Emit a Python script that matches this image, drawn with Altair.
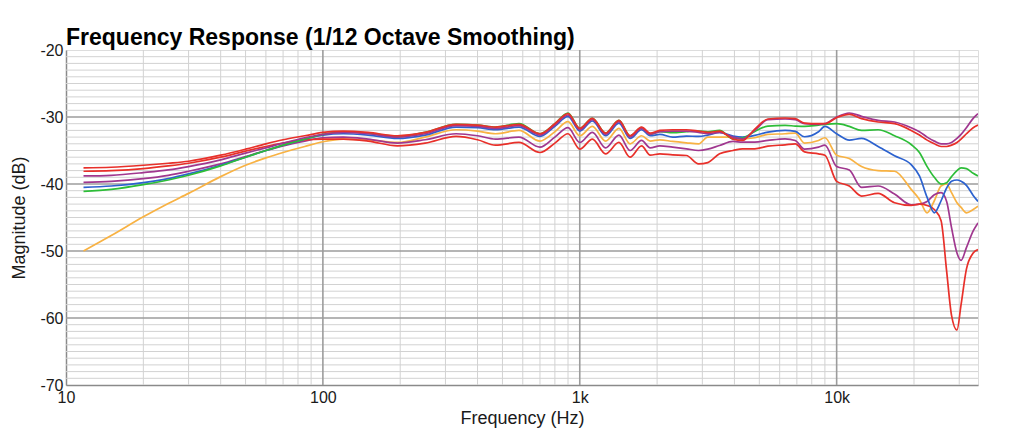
import altair as alt
import pandas as pd

FREQ = [11.7, 15, 20, 25, 30, 40, 50, 60, 70, 85,
        100, 120, 150, 195, 250, 330, 400, 470, 580, 700,
        800, 900, 1000, 1120, 1260, 1420, 1570, 1740, 1880, 2050,
        2300, 2600, 2900, 3150, 3500, 3950, 4300, 4800, 5400, 6300,
        6900, 7500, 8500, 9000, 10000, 11200, 12500, 14500, 16800, 19500,
        21000, 22500, 24000, 25500, 26800, 28000, 29400, 30500, 32000, 34000,
        35500]

RED_A = [-37.6, -37.5, -37.2, -36.9, -36.6, -35.7, -34.8, -34.0, -33.4, -32.8,
         -32.3, -32.1, -32.3, -32.8, -32.3, -31.1, -31.2, -31.5, -31.1, -32.5,
         -31.0, -29.5, -31.7, -30.2, -32.4, -30.5, -32.8, -31.5, -32.4, -32.0,
         -31.9, -31.9, -32.1, -32.3, -32.1, -33.3, -33.5, -31.8, -30.3, -30.15,
         -30.25, -30.9, -31.0, -31.0, -30.1, -29.6, -30.25, -30.75, -31.0, -32.0,
         -32.7, -33.45, -34.0, -34.4, -34.4, -34.2, -33.8, -33.3, -32.5, -31.6,
         -31.2]

PURPLE_A = [-38.8, -38.7, -38.3, -37.9, -37.4, -36.4, -35.4, -34.6, -33.9, -33.1,
            -32.6, -32.3, -32.5, -33.0, -32.5, -31.3, -31.4, -31.7, -31.3, -32.7,
            -31.2, -29.7, -31.9, -30.4, -32.6, -30.7, -33.0, -31.7, -32.6, -32.2,
            -32.1, -32.1, -32.3, -32.5, -32.3, -33.0, -33.3, -32.0, -30.4, -30.3,
            -30.4, -31.0, -31.1, -31.0, -30.0, -29.4, -29.9, -30.5, -30.75, -31.6,
            -32.2, -33.0, -33.6, -34.0, -34.0, -33.8, -33.2, -32.6, -31.6, -30.2,
            -29.5]

GREEN = [-41.1, -40.8, -40.1, -39.4, -38.7, -37.3, -36.0, -35.0, -34.2, -33.3,
         -32.6, -32.2, -32.4, -32.9, -32.3, -31.1, -31.2, -31.5, -31.0, -32.5,
         -31.0, -29.4, -31.7, -30.2, -32.4, -30.5, -32.8, -31.6, -32.6, -32.2,
         -32.35, -32.2, -32.1, -32.2, -32.0, -33.25, -33.15, -32.15, -31.35, -31.25,
         -31.35, -31.4, -31.2, -31.1, -31.0, -31.4, -32.0, -31.9, -32.8, -34.1,
         -35.3, -37.4, -39.0, -40.0, -39.8, -38.9, -38.0, -37.6, -37.7, -38.4,
         -38.8]

BLUE = [-40.5, -40.3, -39.8, -39.2, -38.5, -37.2, -36.0, -35.0, -34.2, -33.3,
        -32.7, -32.5, -32.7, -33.2, -32.7, -31.5, -31.6, -31.9, -31.5, -32.9,
        -31.4, -29.9, -32.1, -30.6, -32.8, -30.9, -33.2, -31.9, -32.8, -32.6,
        -33.0, -32.85, -32.9, -32.7, -32.3, -32.85, -33.0, -32.75, -32.25, -32.0,
        -32.15, -32.95, -32.2, -31.4, -32.5, -33.45, -33.2, -34.4, -35.8, -37.1,
        -38.8, -42.0, -44.3, -42.5, -40.6, -39.6, -39.4, -39.6, -40.2, -41.7,
        -42.6]

ORANGE = [-50.0, -47.7, -44.9, -42.9, -41.4, -38.9, -37.2, -36.1, -35.3, -34.4,
          -33.7, -33.3, -33.4, -33.8, -33.0, -31.9, -32.1, -32.5, -32.0, -33.6,
          -32.2, -30.7, -32.8, -31.4, -33.6, -31.7, -34.0, -32.8, -33.6, -33.4,
          -33.65, -33.85, -34.0, -33.0, -33.0, -33.0, -33.25, -33.1, -32.6, -32.5,
          -32.4, -33.9, -33.5, -33.1, -35.7, -36.2, -37.4, -38.0, -38.1, -40.8,
          -42.3, -44.3, -42.5, -40.3, -40.0, -41.3, -42.8, -43.5, -44.3, -43.8,
          -43.3]

PURPLE_B = [-39.75, -39.6, -39.2, -38.7, -38.1, -37.0, -35.9, -35.0, -34.3, -33.6,
            -33.1, -33.0, -33.3, -33.9, -33.4, -32.5, -32.8, -33.3, -33.0, -34.5,
            -33.0, -31.6, -33.8, -32.3, -34.6, -32.7, -35.0, -33.5, -34.6, -34.3,
            -34.5, -34.75, -35.0, -34.8, -34.25, -33.65, -33.75, -33.75, -33.5, -33.25,
            -33.5, -34.8, -34.5, -34.2, -37.4, -37.9, -40.5, -40.3, -41.5, -43.1,
            -43.0, -42.6, -41.6, -41.3, -42.6, -46.5, -50.3, -51.4, -49.5, -47.0,
            -45.8]

RED_B = [-38.1, -38.0, -37.7, -37.3, -36.9, -36.0, -35.1, -34.4, -33.9, -33.4,
         -33.3, -33.3, -33.6, -34.3, -33.9, -32.9, -33.4, -34.2, -33.8, -35.3,
         -33.9, -32.5, -34.8, -33.3, -35.5, -33.8, -36.0, -34.3, -35.7, -35.5,
         -35.65, -35.75, -37.0, -36.8, -35.5, -35.0, -34.75, -34.75, -34.35, -34.15,
         -34.0, -35.2, -35.5, -35.7, -39.6, -40.3, -41.8, -41.4, -42.8, -43.2,
         -43.0, -43.2, -43.8, -45.5, -53.0, -59.6, -61.8, -58.0, -52.7, -50.3,
         -49.8]

SERIES_NAMES = ["orange", "purple_b", "red_b", "blue", "green", "purple_a", "red_a"]
SERIES_VALUES = [ORANGE, PURPLE_B, RED_B, BLUE, GREEN, PURPLE_A, RED_A]
SERIES_COLORS = ["#f8b243", "#a0378f", "#e8302a", "#2c62cf", "#2dbd38", "#a0378f", "#e8302a"]

X_TICKS = [10, 100, 1000, 10000]
Y_TICKS = [-70, -60, -50, -40, -30, -20]
MAJOR_X = [100, 1000, 10000]
MAJOR_Y = [-30, -40, -50, -60]
MINOR_X = [m * d for d in (10, 100, 1000) for m in range(2, 10)] + [20000, 30000]
MINOR_Y = [v for v in range(-69, -20) if v % 10 != 0]

rows = []
for name, vals in zip(SERIES_NAMES, SERIES_VALUES):
    for i, (f, v) in enumerate(zip(FREQ, vals)):
        rows.append({"f": f, "db": v, "s": name, "i": i})
df = pd.DataFrame(rows)

FONT = "Liberation Sans"
xscale = alt.Scale(type="log", domain=[10, 35500], nice=False)
yscale = alt.Scale(domain=[-70, -20], nice=False, zero=False)

xax = alt.Axis(values=X_TICKS, labelExpr="datum.value >= 1000 ? (datum.value / 1000) + 'k' : '' + datum.value",
               grid=False, ticks=False, domainColor="#8a8a8a", domainWidth=1.5,
               labelFontSize=16, labelColor="#1a1a1a", labelFont=FONT, labelPadding=4,
               labelFlush=False, labelOverlap=False,
               title="Frequency (Hz)", titleFontSize=18, titleFontWeight="normal",
               titleFont=FONT, titleColor="#1a1a1a", titlePadding=4)
yax = alt.Axis(values=Y_TICKS, labelExpr="'' + datum.value",
               grid=False, ticks=False, domainColor="#8a8a8a", domainWidth=1.5,
               labelFontSize=16, labelColor="#1a1a1a", labelFont=FONT, labelPadding=3,
               labelFlush=False, labelOverlap=False,
               title="Magnitude (dB)", titleFontSize=18, titleFontWeight="normal",
               titleFont=FONT, titleColor="#1a1a1a", titlePadding=11)

minor_x = alt.Chart(pd.DataFrame({"f": MINOR_X})).mark_rule(color="#d2d2d2", strokeWidth=1).encode(
    x=alt.X("f:Q", scale=xscale, axis=xax))
minor_y = alt.Chart(pd.DataFrame({"db": MINOR_Y})).mark_rule(color="#d2d2d2", strokeWidth=1).encode(
    y=alt.Y("db:Q", scale=yscale, axis=yax))
major_x = alt.Chart(pd.DataFrame({"f": MAJOR_X})).mark_rule(color="#9c9c9c", strokeWidth=1.6).encode(
    x=alt.X("f:Q", scale=xscale, axis=xax))
major_y = alt.Chart(pd.DataFrame({"db": MAJOR_Y})).mark_rule(color="#9c9c9c", strokeWidth=1.6).encode(
    y=alt.Y("db:Q", scale=yscale, axis=yax))

lines = alt.Chart(df).mark_line(strokeWidth=1.7, interpolate="monotone", clip=True).encode(
    x=alt.X("f:Q", scale=xscale, axis=xax),
    y=alt.Y("db:Q", scale=yscale, axis=yax),
    color=alt.Color("s:N", scale=alt.Scale(domain=SERIES_NAMES, range=SERIES_COLORS), legend=None),
    order=alt.Order("i:Q"),
)

chart = alt.layer(minor_x, minor_y, major_x, major_y, lines).properties(
    width=912, height=335,
    autosize=alt.AutoSizeParams(type="none"),
    padding={"left": 58, "top": 42, "right": 30, "bottom": 48},
    title=alt.Title("Frequency Response (1/12 Octave Smoothing)", anchor="start", frame="group",
                    fontSize=23, fontWeight="bold", font=FONT, color="#000000",
                    baseline="alphabetic", offset=5, dy=31),
).configure_view(stroke="#9c9c9c", strokeWidth=1.5).configure(background="white")

chart.save("out.html", embed_options={"renderer": "svg", "actions": False})
